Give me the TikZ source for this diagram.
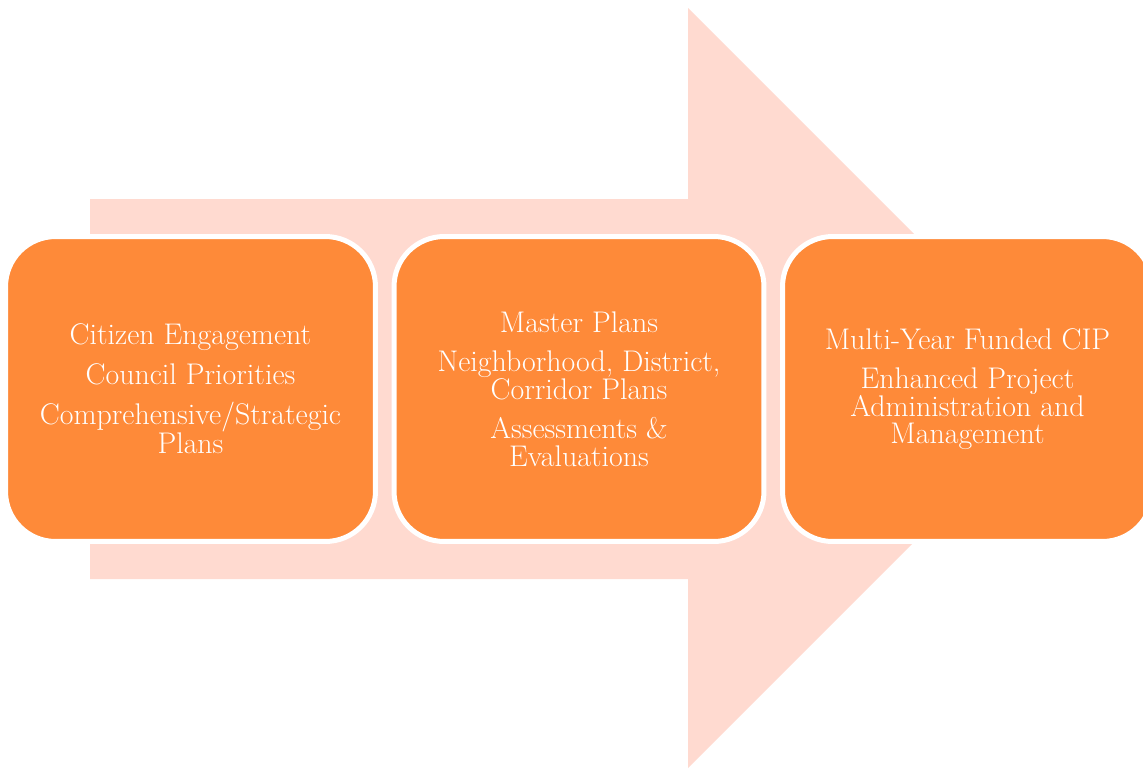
\documentclass[tikz,border=0pt]{standalone}
\definecolor{peach}{HTML}{FFDAD0}
\definecolor{tangerine}{HTML}{FE8A39}
\begin{document}
\begin{tikzpicture}[x=0.02cm,y=-0.02cm]
    \tikzset{stage/.style= {draw=white,
                            line width=0.1cm,
                            fill=tangerine,
                            rounded corners=1cm,
                            text=white,
                            align=center,
                            font=\fontsize{17}{15.6}\selectfont,
                            minimum width=7.4cm,
                            minimum height=6.1cm},
            }
    \useasboundingbox (0,0) rectangle (1143,768);
    \clip (0,0) rectangle (1143,768);
    % big arrow behind the stages
    \fill[peach] (90,199) -- (688,199) -- (688,8) -- (1068,388)
                 -- (688,768) -- (688,579) -- (90,579) -- cycle;
    \path
    (190.5,389) node[stage](c) {Citizen Engagement\\[7pt]
                                Council Priorities\\[7pt]
                                Comprehensive/Strategic\\Plans}
    (579,389)   node[stage](m) {Master Plans\\[7pt]
                                Neighborhood, District,\\Corridor Plans\\[7pt]
                                Assessments \&\\Evaluations}
    (967.5,389) node[stage](f) {Multi-Year Funded CIP\\[7pt]
                                Enhanced Project\\Administration and\\Management}
    ;
\end{tikzpicture}
\end{document}
